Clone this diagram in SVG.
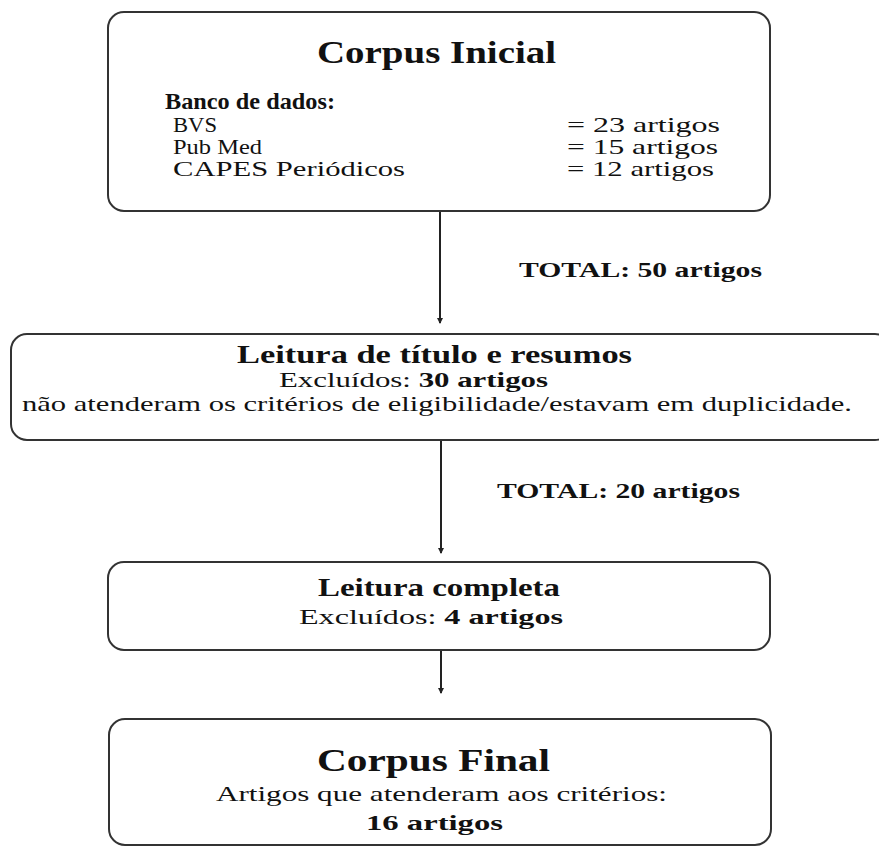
<svg xmlns="http://www.w3.org/2000/svg" width="879" height="846" viewBox="0 0 879 846">
<style>
.box{fill:#fff;stroke:#333;stroke-width:2}
text{font-family:"Liberation Serif","Times New Roman",serif;fill:#111}
.b{font-weight:bold}
.conn{stroke:#222;stroke-width:2;fill:none}
</style>
<defs>
<marker id="ah" markerWidth="6" markerHeight="6" refX="5" refY="3" orient="auto" markerUnits="userSpaceOnUse">
<path d="M0,0 L6,3 L0,6 z" fill="#222"/>
</marker>
</defs>
<rect width="879" height="846" fill="#fff"/>
<g id="connectors">
<line class="conn" x1="440" y1="212" x2="440" y2="323" marker-end="url(#ah)"/>
<line class="conn" x1="441" y1="440" x2="441" y2="553" marker-end="url(#ah)"/>
<line class="conn" x1="441" y1="651" x2="441" y2="693" marker-end="url(#ah)"/>
<text class="b" x="519" y="277" font-size="20" textLength="243" lengthAdjust="spacingAndGlyphs">TOTAL: 50 artigos</text>
<text class="b" x="497" y="498" font-size="20" textLength="243" lengthAdjust="spacingAndGlyphs">TOTAL: 20 artigos</text>
</g>
<g id="corpus-inicial">
<rect class="box" x="108" y="12" width="662" height="199" rx="16"/>
<text class="b" x="317" y="63" font-size="32" textLength="239" lengthAdjust="spacingAndGlyphs">Corpus Inicial</text>
<text class="b" x="165" y="109" font-size="23" textLength="170" lengthAdjust="spacingAndGlyphs">Banco de dados:</text>
<text x="173" y="132" font-size="21" textLength="44" lengthAdjust="spacingAndGlyphs">BVS</text>
<text x="173" y="154" font-size="21" textLength="89" lengthAdjust="spacingAndGlyphs">Pub Med</text>
<text x="173" y="176" font-size="21" textLength="232" lengthAdjust="spacingAndGlyphs">CAPES Periódicos</text>
<text x="567" y="132" font-size="21" textLength="153" lengthAdjust="spacingAndGlyphs">= 23 artigos</text>
<text x="567" y="154" font-size="21" textLength="151" lengthAdjust="spacingAndGlyphs">= 15 artigos</text>
<text x="567" y="176" font-size="21" textLength="147" lengthAdjust="spacingAndGlyphs">= 12 artigos</text>
</g>
<g id="leitura-titulo">
<rect class="box" x="11" y="334" width="880" height="106" rx="16"/>
<text class="b" x="237" y="363" font-size="25" textLength="395" lengthAdjust="spacingAndGlyphs">Leitura de título e resumos</text>
<text x="279" y="387" font-size="22" textLength="269" lengthAdjust="spacingAndGlyphs">Excluídos: <tspan class="b">30 artigos</tspan></text>
<text x="22" y="411" font-size="21" textLength="830" lengthAdjust="spacingAndGlyphs">não atenderam os critérios de eligibilidade/estavam em duplicidade.</text>
</g>
<g id="leitura-completa">
<rect class="box" x="108" y="562" width="662" height="88" rx="16"/>
<text class="b" x="318" y="596" font-size="25" textLength="242" lengthAdjust="spacingAndGlyphs">Leitura completa</text>
<text x="299" y="624" font-size="22" textLength="264" lengthAdjust="spacingAndGlyphs">Excluídos: <tspan class="b">4 artigos</tspan></text>
</g>
<g id="corpus-final">
<rect class="box" x="109" y="719" width="662" height="126" rx="16"/>
<text class="b" x="317" y="771" font-size="32" textLength="233" lengthAdjust="spacingAndGlyphs">Corpus Final</text>
<text x="216" y="801" font-size="22" textLength="451" lengthAdjust="spacingAndGlyphs">Artigos que atenderam aos critérios:</text>
<text class="b" x="366" y="830" font-size="22" textLength="137" lengthAdjust="spacingAndGlyphs">16 artigos</text>
</g>
</svg>
